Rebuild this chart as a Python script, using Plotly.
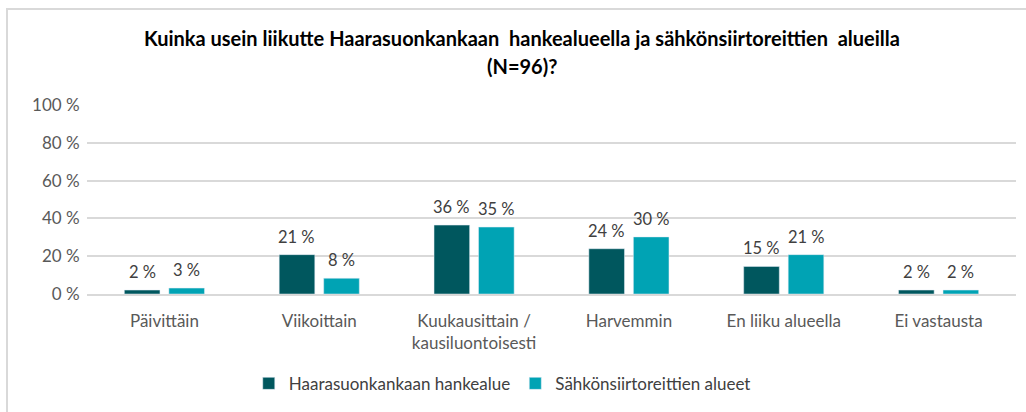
import plotly.graph_objects as go

categories = ["Päivittäin", "Viikoittain", "Kuukausittain /<br>kausiluontoisesti",
              "Harvemmin", "En liiku alueella", "Ei vastausta"]
series_names = ["Haarasuonkankaan hankealue", "Sähkönsiirtoreittien alueet"]
hankealue = [2.08, 20.83, 36.46, 23.96, 14.58, 2.08]
siirtoreitit = [3.13, 8.33, 35.42, 30.21, 20.83, 2.08]
colors = ["#00575E", "#00A3B4"]
y_ticks = [0, 20, 40, 60, 80, 100]
y_tick_labels = ["0 %", "20 %", "40 %", "60 %", "80 %", "100 %"]
title_lines = ["Kuinka usein liikutte Haarasuonkankaan  hankealueella ja sähkönsiirtoreittien  alueilla",
               "(N=96)?"]

FONT = "Lato"

fig = go.Figure()
for name, vals, col in zip(series_names, [hankealue, siirtoreitit], colors):
    fig.add_trace(go.Bar(
        x=categories, y=vals, name=name, marker_color=col,
        hoverinfo="skip",
    ))

# data labels above bars
for vals, xs in zip([hankealue, siirtoreitit], [-22.3, 22.3]):
    for cat, v in zip(categories, vals):
        fig.add_annotation(x=cat, y=v, xref="x", yref="y", text=f"{v:.0f} %",
                           showarrow=False, xanchor="center", yanchor="bottom",
                           xshift=xs, yshift=6,
                           font=dict(family=FONT, size=16.5, color="#404040"))

fig.update_layout(
    width=1026, height=412,
    margin=dict(l=87, r=10, t=105, b=116),
    paper_bgcolor="white", plot_bgcolor="white",
    barmode="group", bargap=0.425, bargroupgap=0.2,
    showlegend=True,
    legend=dict(orientation="h", x=0.447, xanchor="center", y=-0.38, yanchor="top",
                font=dict(family=FONT, size=17, color="#404040"),
                itemwidth=30, traceorder="normal"),
    font=dict(family=FONT, size=17, color="#595959"),
)
fig.update_yaxes(range=[0, 100], tickvals=y_ticks, ticktext=y_tick_labels,
                 showgrid=True, gridcolor="#D9D9D9", gridwidth=1.5,
                 zeroline=False, showline=False,
                 ticks="outside", ticklen=3, tickcolor="rgba(0,0,0,0)",
                 tickfont=dict(family=FONT, size=17, color="#595959"))
fig.update_xaxes(showline=True, linecolor="#D9D9D9", linewidth=1.5,
                 ticks="outside", ticklen=11, tickcolor="rgba(0,0,0,0)",
                 tickfont=dict(family=FONT, size=17, color="#595959"))

# title lines
fig.add_annotation(text="<b>" + title_lines[0] + "</b>", xref="paper", yref="paper",
                   x=0.468, y=1.352, xanchor="center", yanchor="middle", showarrow=False,
                   font=dict(family=FONT, size=20, color="#000000"))
fig.add_annotation(text="<b>" + title_lines[1] + "</b>", xref="paper", yref="paper",
                   x=0.468, y=1.206, xanchor="center", yanchor="middle", showarrow=False,
                   font=dict(family=FONT, size=20, color="#000000"))

# outer chart border (light gray), partly cropped in the reference
fig.add_shape(type="rect", xref="paper", yref="paper",
              x0=-0.0861, x1=1.2, y0=-1.0, y1=1.508,
              line=dict(color="#D9D9D9", width=2), fillcolor="rgba(0,0,0,0)", layer="below")

fig.write_html("out.html", config={"displayModeBar": False},
               post_script="document.body.style.margin='0px';")
